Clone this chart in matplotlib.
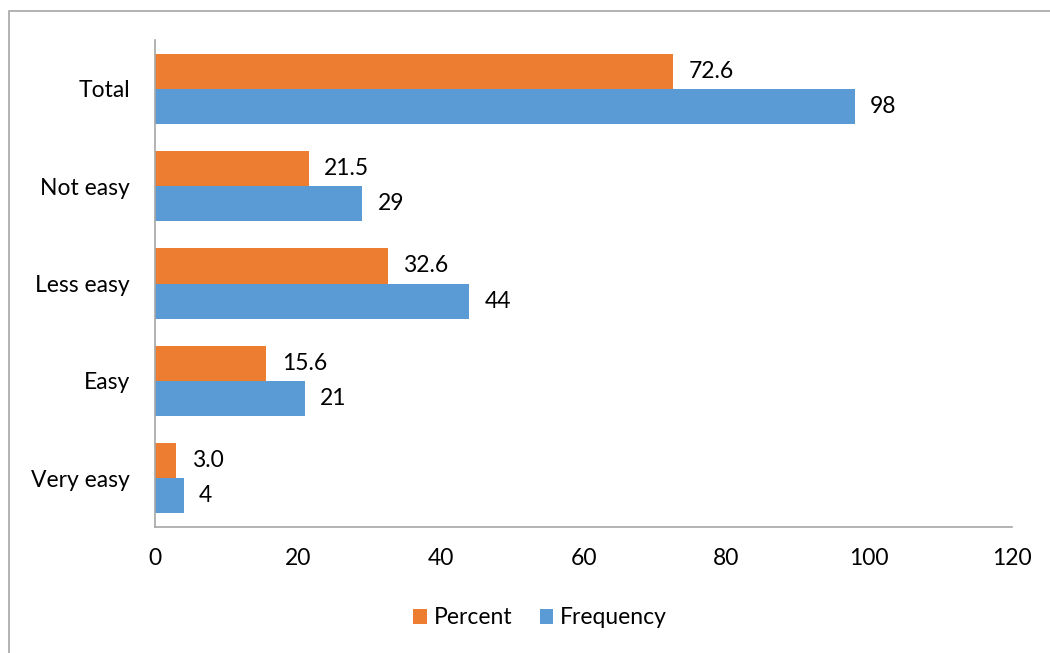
import matplotlib
matplotlib.use("Agg")
import matplotlib.pyplot as plt
from matplotlib.patches import Rectangle
import numpy as np

categories = ["Very easy", "Easy", "Less easy", "Not easy", "Total"]
percent = [3.0, 15.6, 32.6, 21.5, 72.6]
frequency = [4, 21, 44, 29, 98]
xticks = [0, 20, 40, 60, 80, 100, 120]

plt.rcParams['font.family'] = ['Lato', 'DejaVu Sans']
FS = 16.5

fig = plt.figure(figsize=(10.5, 6.53), dpi=100)
ax = fig.add_axes([155/1050, 1 - 527/653, (1012-155)/1050, (527-40)/653])

orange = "#ED7D31"
blue = "#5B9BD5"
h = 0.36
y = np.arange(len(categories))
ax.barh(y + h/2, percent, height=h, color=orange, label="Percent")
ax.barh(y - h/2, frequency, height=h, color=blue, label="Frequency")

for yi, p, f in zip(y, percent, frequency):
    ax.annotate(f"{p:.1f}", (p, yi + h/2), xytext=(11, 0), textcoords="offset points",
                va="center", ha="left", fontsize=FS, color="black")
    ax.annotate(f"{f:d}", (f, yi - h/2), xytext=(11, 0), textcoords="offset points",
                va="center", ha="left", fontsize=FS, color="black")

ax.set_xlim(0, 120)
ax.set_ylim(-0.5, 4.5)
ax.set_xticks(xticks)
ax.set_xticklabels([str(t) for t in xticks], fontsize=FS)
ax.set_yticks(y)
ax.set_yticklabels(categories, fontsize=FS)
ax.tick_params(axis="both", length=0)
ax.tick_params(axis="x", pad=15)
ax.tick_params(axis="y", pad=18)
for s in ["top", "right"]:
    ax.spines[s].set_visible(False)
for s in ["left", "bottom"]:
    ax.spines[s].set_color("#A6A6A6")
    ax.spines[s].set_linewidth(1.2)

leg = fig.legend(loc="center", bbox_to_anchor=(540/1050, 1 - 618/653), ncol=2,
                 frameon=False, fontsize=FS, handlelength=0.6, handleheight=0.6,
                 handletextpad=0.3, columnspacing=1.2)

fig.patches.append(Rectangle((9/1050, -0.01), 1.0, 1 - 11/653 + 0.01, transform=fig.transFigure,
                             fill=False, edgecolor="#A6A6A6", linewidth=1.2))

fig.savefig("out.png", dpi=100, facecolor="white")
